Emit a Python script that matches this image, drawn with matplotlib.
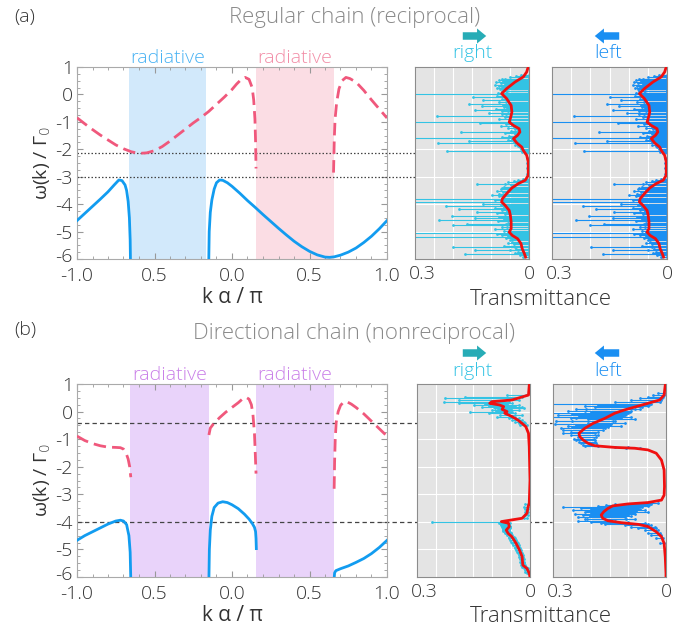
import numpy as np
import matplotlib
matplotlib.use("Agg")
import matplotlib.pyplot as plt
from matplotlib.patches import FancyArrowPatch
from matplotlib.transforms import ScaledTranslation

plt.rcParams["font.family"] = ["Open Sans", "DejaVu Sans"]
plt.rcParams["font.weight"] = "light"
plt.rcParams["mathtext.fontset"] = "dejavusans"

# ---------------- dispersion curves, panel (a) ----------------
a_upper_k1 = [-1.0, -0.95, -0.9, -0.85, -0.8, -0.75, -0.7, -0.65, -0.6, -0.55, -0.5, -0.45, -0.4,
              -0.35, -0.3, -0.25, -0.2, -0.15, -0.1, -0.05, 0.0, 0.03, 0.06, 0.085, 0.11, 0.13,
              0.14, 0.148, 0.152, 0.155]
a_upper_w1 = [-0.85, -1.07, -1.28, -1.48, -1.66, -1.84, -1.98, -2.09, -2.15, -2.13, -2.05, -1.90, -1.70,
              -1.48, -1.26, -1.04, -0.84, -0.62, -0.36, -0.10, 0.18, 0.38, 0.55, 0.62, 0.55, 0.25,
              -0.2, -0.9, -1.7, -2.7]
a_upper_k2 = [0.655, 0.66, 0.665, 0.675, 0.69, 0.71, 0.735, 0.76, 0.8, 0.85, 0.9, 0.95, 1.0]
a_upper_w2 = [-2.85, -1.6, -0.9, -0.3, 0.2, 0.5, 0.62, 0.58, 0.45, 0.15, -0.2, -0.53, -0.86]

a_lower_k1 = [-1.0, -0.95, -0.9, -0.85, -0.8, -0.76, -0.73, -0.71, -0.69, -0.68, -0.67, -0.662, -0.657, -0.655]
a_lower_w1 = [-4.6, -4.34, -4.08, -3.82, -3.55, -3.3, -3.12, -3.14, -3.3, -3.5, -3.9, -4.5, -5.3, -6.1]
a_lower_k2 = [-0.15, -0.147, -0.14, -0.13, -0.115, -0.1, -0.08, -0.06, -0.03, 0.0, 0.05, 0.1, 0.15,
              0.2, 0.25, 0.3, 0.35, 0.4, 0.45, 0.5, 0.55, 0.6, 0.63, 0.66, 0.7, 0.75, 0.8, 0.85,
              0.9, 0.95, 1.0]
a_lower_w2 = [-6.1, -5.0, -4.3, -3.85, -3.45, -3.22, -3.12, -3.13, -3.22, -3.35, -3.6, -3.87, -4.12,
              -4.38, -4.63, -4.88, -5.12, -5.35, -5.55, -5.72, -5.85, -5.93, -5.94, -5.92, -5.86, -5.75,
              -5.6, -5.4, -5.17, -4.9, -4.6]

# ---------------- dispersion curves, panel (b) ----------------
b_upper_k1 = [-1.0, -0.95, -0.9, -0.85, -0.8, -0.75, -0.72, -0.70, -0.685, -0.67, -0.66, -0.653]
b_upper_w1 = [-0.89, -1.05, -1.16, -1.24, -1.29, -1.30, -1.31, -1.36, -1.48, -1.72, -2.0, -2.38]
b_upper_k2 = [-0.149, -0.14, -0.12, -0.08, -0.04, 0.0, 0.04, 0.07, 0.09, 0.11, 0.125, 0.135, 0.145, 0.15, 0.155]
b_upper_w2 = [-0.85, -0.6, -0.45, -0.22, -0.02, 0.15, 0.32, 0.47, 0.52, 0.45, 0.25, -0.1, -0.8, -1.5, -2.25]
b_upper_k3 = [0.659, 0.662, 0.666, 0.672, 0.685, 0.70, 0.72, 0.74, 0.77, 0.8, 0.85, 0.9, 0.95, 1.0]
b_upper_w3 = [-2.8, -1.8, -1.0, -0.4, 0.0, 0.22, 0.35, 0.36, 0.27, 0.15, -0.08, -0.35, -0.62, -0.89]

b_lower_k1 = [-1.0, -0.95, -0.9, -0.85, -0.8, -0.75, -0.72, -0.70, -0.68, -0.665, -0.657, -0.653]
b_lower_w1 = [-4.67, -4.5, -4.36, -4.22, -4.08, -3.97, -3.94, -3.97, -4.1, -4.5, -5.1, -6.1]
b_lower_k2 = [-0.149, -0.146, -0.14, -0.13, -0.115, -0.09, -0.06, -0.03, 0.0, 0.04, 0.08, 0.11, 0.13,
              0.145, 0.152, 0.155, 0.157]
b_lower_w2 = [-6.1, -5.0, -4.3, -3.8, -3.48, -3.32, -3.27, -3.3, -3.38, -3.52, -3.72, -3.9, -4.05,
              -4.2, -4.35, -4.6, -4.97]
b_lower_k3 = [0.659, 0.662, 0.67, 0.7, 0.75, 0.8, 0.85, 0.9, 0.95, 1.0]
b_lower_w3 = [-6.05, -5.85, -5.77, -5.7, -5.6, -5.47, -5.33, -5.15, -4.93, -4.67]

radiative_a = [(-0.665, -0.165), (0.155, 0.655)]
radiative_b = [(-0.655, -0.15), (0.155, 0.658)]
guide_a = [-2.15, -3.0]
guide_b = [-0.4, -4.0]

# ---------------- transmittance, panel (a) (reciprocal: same both ways) ----------------
a_mean_w = [1.0, 0.94, 0.82, 0.64, 0.45, 0.21, 0.03, -0.15, -0.40, -0.64, -0.82, -1.01, -1.13, -1.25,
            -1.37, -1.49, -1.61, -1.77, -1.92, -2.04, -2.22, -2.46, -2.95, -3.13, -3.25, -3.41, -3.62,
            -3.80, -3.92, -4.04, -4.23, -4.41, -4.65, -4.89, -5.02, -5.14, -5.26, -5.44, -5.62, -5.81,
            -5.93]
a_mean_T = [0.0, 0.0035, 0.006, 0.015, 0.037, 0.059, 0.072, 0.059, 0.047, 0.045, 0.048, 0.052, 0.041,
            0.026, 0.024, 0.030, 0.041, 0.032, 0.019, 0.015, 0.006, 0.002, 0.002, 0.010, 0.028, 0.045,
            0.059, 0.070, 0.072, 0.063, 0.052, 0.049, 0.047, 0.047, 0.052, 0.044, 0.030, 0.021, 0.018,
            0.012, 0.009]

a_long_w = [0.03, -0.09, -0.22, -0.34, -0.43, -0.56, -0.66, -0.80, -1.00, -1.04, -1.37, -1.59, -1.70,
            -1.77, -2.07, -3.25, -3.41, -3.68, -3.83, -3.92, -3.98, -4.08, -4.19, -4.29, -4.43, -4.50,
            -4.59, -4.71, -4.77, -5.05, -5.10, -5.20, -5.38, -5.58, -5.66, -5.83]
a_long_T = [0.32, 0.148, 0.120, 0.157, 0.124, 0.142, 0.105, 0.242, 0.32, 0.129, 0.178, 0.32, 0.157,
            0.240, 0.216, 0.137, 0.072, 0.098, 0.32, 0.32, 0.120, 0.218, 0.185, 0.137, 0.203, 0.142,
            0.238, 0.164, 0.201, 0.32, 0.085, 0.32, 0.045, 0.199, 0.142, 0.168]

a_short_w = [0.70, 0.66, 0.62, 0.58, 0.55, 0.52, 0.48, 0.45, 0.42, 0.38, 0.35, 0.31, 0.27, 0.24, 0.21,
             0.18, 0.14, 0.11, 0.07, 0.05, -0.02, -0.05, -0.12, -0.15, -0.18, -0.26, -0.29, -0.31,
             -0.37, -0.40, -0.47, -0.50, -0.52, -0.59, -0.62, -0.70, -0.73, -0.77, -0.84, -0.88, -0.91,
             -0.95, -1.08, -1.11, -1.14, -1.18, -1.22, -1.26, -1.30, -1.33, -1.40, -1.43, -1.47, -1.51,
             -1.55, -1.63, -1.66, -1.73, -1.80, -1.84, -1.89, -1.93, -1.98, -2.02, -2.10, -2.15, -2.3,
             -2.5, -2.7, -2.9,
             -3.08, -3.12, -3.17, -3.21, -3.28, -3.32, -3.37, -3.45, -3.49, -3.53, -3.57, -3.62, -3.66,
             -3.72, -3.77, -3.86, -3.89, -4.02, -4.05, -4.12, -4.15, -4.22, -4.26, -4.33, -4.37, -4.46,
             -4.53, -4.56, -4.63, -4.67, -4.74, -4.82, -4.85, -4.92, -4.97, -5.01, -5.14, -5.17, -5.24,
             -5.28, -5.32, -5.41, -5.46, -5.51, -5.55, -5.62, -5.69, -5.74, -5.78, -5.87, -5.92]
a_short_T = [0.020, 0.035, 0.050, 0.062, 0.072, 0.080, 0.068, 0.086, 0.075, 0.062, 0.090, 0.078, 0.070,
             0.084, 0.066, 0.076, 0.058, 0.072, 0.081, 0.060, 0.066, 0.083, 0.055, 0.071, 0.062, 0.060,
             0.078, 0.052, 0.050, 0.068, 0.066, 0.058, 0.086, 0.055, 0.072, 0.072, 0.048, 0.060, 0.062,
             0.050, 0.080, 0.050, 0.060, 0.045, 0.075, 0.040, 0.055, 0.036, 0.030, 0.048, 0.063, 0.038,
             0.035, 0.052, 0.070, 0.045, 0.055, 0.040, 0.030, 0.038, 0.028, 0.025, 0.020, 0.015, 0.019,
             0.010, 0.005, 0.004, 0.004, 0.006,
             0.015, 0.030, 0.040, 0.055, 0.062, 0.048, 0.066, 0.075, 0.055, 0.085, 0.068, 0.078, 0.060,
             0.080, 0.065, 0.090, 0.072, 0.075, 0.062, 0.065, 0.090, 0.070, 0.058, 0.085, 0.062, 0.078,
             0.065, 0.052, 0.082, 0.055, 0.060, 0.070, 0.058, 0.090, 0.065, 0.055, 0.070, 0.055, 0.060,
             0.046, 0.050, 0.055, 0.040, 0.065, 0.038, 0.035, 0.050, 0.030, 0.036, 0.025, 0.015]

# ---------------- transmittance, panel (b) right ----------------
b_right_mean_w = [1.0, 0.96, 0.60, 0.42, 0.36, 0.30, 0.24, 0.18, 0.08, 0.0, -0.06, -0.18, -0.31, -0.43,
                  -0.55, -0.79, -1.27, -2.48, -3.33, -3.45, -3.69, -3.87, -3.99, -4.05, -4.17, -4.30,
                  -4.42, -4.54, -4.78, -5.02, -5.26, -5.57, -5.69, -5.87, -6.0]
b_right_mean_T = [0.0, 0.002, 0.004, 0.048, 0.101, 0.107, 0.081, 0.070, 0.074, 0.061, 0.067, 0.048,
                  0.032, 0.021, 0.011, 0.004, 0.002, 0.0, 0.002, 0.005, 0.008, 0.021, 0.076, 0.057,
                  0.055, 0.063, 0.058, 0.048, 0.037, 0.028, 0.021, 0.019, 0.008, 0.002, 0.0]
b_right_w = [0.60, 0.54, 0.48, 0.42, 0.36, 0.30, 0.27, 0.24, 0.21, 0.18, 0.15, 0.12, 0.09, 0.06, 0.03,
             0.00, -0.03, -0.06, -0.12, -0.18, -0.25, -0.31, -0.37, -0.43, -0.49,
             -3.35, -3.45, -3.55, -3.65, -3.75, -3.85, -3.99,
             -4.05, -4.08, -4.11, -4.14, -4.17, -4.21, -4.24, -4.27, -4.30, -4.33, -4.36, -4.39, -4.42,
             -4.48, -4.54, -4.60, -4.66, -4.72, -4.78, -4.84, -4.90, -4.96, -5.02, -5.08, -5.14, -5.20,
             -5.26, -5.35, -5.44, -5.50, -5.57, -5.63, -5.69, -5.75, -5.81, -5.87]
b_right_lo = [0.010, 0.021, 0.048, 0.030, 0.057, 0.048, 0.060, 0.030, 0.040, 0.021, 0.045, 0.017, 0.050,
              0.030, 0.055, 0.048, 0.050, 0.039, 0.021, 0.039, 0.030, 0.021, 0.017, 0.012, 0.008,
              0.004, 0.005, 0.004, 0.005, 0.006, 0.008, 0.076,
              0.052, 0.055, 0.057, 0.054, 0.052, 0.053, 0.055, 0.056, 0.057, 0.055, 0.052, 0.051, 0.050,
              0.047, 0.043, 0.040, 0.037, 0.035, 0.032, 0.030, 0.028, 0.026, 0.025, 0.023, 0.021, 0.019,
              0.018, 0.017, 0.016, 0.015, 0.014, 0.010, 0.005, 0.004, 0.002, 0.001]
b_right_hi = [0.060, 0.172, 0.225, 0.189, 0.227, 0.189, 0.120, 0.150, 0.110, 0.127, 0.095, 0.092, 0.085,
              0.101, 0.090, 0.158, 0.080, 0.110, 0.079, 0.088, 0.057, 0.048, 0.039, 0.030, 0.026,
              0.014, 0.016, 0.013, 0.012, 0.014, 0.016, 0.260,
              0.081, 0.078, 0.076, 0.075, 0.074, 0.072, 0.070, 0.072, 0.073, 0.071, 0.067, 0.066, 0.065,
              0.061, 0.057, 0.055, 0.052, 0.050, 0.048, 0.045, 0.041, 0.039, 0.037, 0.035, 0.032, 0.030,
              0.028, 0.027, 0.026, 0.025, 0.023, 0.020, 0.017, 0.014, 0.012, 0.008]

# ---------------- transmittance, panel (b) left ----------------
b_left_mean_w = [1.0, 0.96, 0.60, 0.42, 0.30, 0.18, 0.06, -0.06, -0.25, -0.43, -0.61, -0.79, -0.91,
                 -1.03, -1.15, -1.24, -1.30, -1.33, -1.39, -1.51, -1.76, -2.12, -2.72, -3.03, -3.21,
                 -3.30, -3.35, -3.42, -3.51, -3.63, -3.75, -3.87, -3.96, -4.03, -4.09, -4.17, -4.36,
                 -4.54, -4.78, -5.26, -5.87, -6.0]
b_left_mean_T = [0.0, 0.002, 0.005, 0.017, 0.048, 0.079, 0.110, 0.136, 0.163, 0.194, 0.216, 0.231,
                 0.229, 0.220, 0.207, 0.189, 0.136, 0.083, 0.048, 0.026, 0.012, 0.005, 0.004, 0.005,
                 0.012, 0.048, 0.101, 0.141, 0.154, 0.165, 0.172, 0.168, 0.154, 0.119, 0.074, 0.048,
                 0.026, 0.012, 0.005, 0.002, 0.0, 0.0]
b_left_w = [0.66, 0.60, 0.54, 0.48, 0.42, 0.36, 0.27, 0.24, 0.20, 0.15, 0.11, 0.08, 0.03, -0.01, -0.04,
            -0.06, -0.09, -0.12, -0.15, -0.18, -0.22, -0.25, -0.28, -0.33, -0.36, -0.40, -0.45, -0.49,
            -0.52, -0.57, -0.61, -0.67, -0.73, -0.79, -0.85, -0.93, -0.98, -1.03, -1.09, -1.15, -1.20,
            -1.24, -1.30, -1.33,
            -3.30, -3.35, -3.38, -3.42, -3.47, -3.51, -3.54, -3.57, -3.60, -3.63, -3.66, -3.69, -3.72,
            -3.76, -3.79, -3.84, -3.88, -3.91, -3.96, -3.99, -4.03, -4.08, -4.13, -4.17, -4.24, -4.30,
            -4.39, -4.48, -4.60, -4.78]
b_left_lo = [0.004, 0.006, 0.008, 0.010, 0.012, 0.017, 0.039, 0.045, 0.048, 0.065, 0.070, 0.083, 0.092,
             0.095, 0.101, 0.110, 0.105, 0.110, 0.115, 0.092, 0.120, 0.127, 0.083, 0.136, 0.140, 0.110,
             0.145, 0.150, 0.119, 0.155, 0.163, 0.167, 0.181, 0.189, 0.181, 0.185, 0.190, 0.189, 0.188,
             0.185, 0.183, 0.181, 0.101, 0.070,
             0.021, 0.039, 0.045, 0.048, 0.065, 0.074, 0.070, 0.057, 0.080, 0.048, 0.092, 0.085, 0.083,
             0.100, 0.092, 0.110, 0.105, 0.083, 0.136, 0.100, 0.057, 0.048, 0.039, 0.030, 0.026, 0.021,
             0.017, 0.012, 0.008, 0.005]
b_left_hi = [0.021, 0.035, 0.048, 0.070, 0.092, 0.136, 0.310, 0.180, 0.216, 0.189, 0.240, 0.212, 0.260,
             0.200, 0.310, 0.216, 0.250, 0.287, 0.230, 0.310, 0.240, 0.251, 0.207, 0.291, 0.250, 0.207,
             0.296, 0.240, 0.260, 0.250, 0.278, 0.273, 0.251, 0.273, 0.251, 0.234, 0.245, 0.238, 0.232,
             0.225, 0.220, 0.216, 0.136, 0.105,
             0.065, 0.136, 0.160, 0.181, 0.273, 0.225, 0.200, 0.247, 0.210, 0.189, 0.216, 0.200, 0.242,
             0.220, 0.203, 0.234, 0.210, 0.216, 0.234, 0.200, 0.172, 0.163, 0.110, 0.092, 0.074, 0.057,
             0.048, 0.039, 0.026, 0.017]

# ---------------- colours ----------------
c_solid = "#129cf0"
c_dash = "#f0587c"
c_right = "#33c3e4"
c_left = "#1a8ff2"
c_red = "#f01010"
c_text = "#333333"
c_title = "#8a8a8a"


def px(x, y):
    return x / 690, 1 - y / 631


fig = plt.figure(figsize=(6.9, 6.31), dpi=100)


def dispersion_axes(rect, upper, lower, shades, guides, guide_ls):
    ax = fig.add_axes(rect)
    for (lo, hi), shade_color, label_color in shades:
        ax.axvspan(lo, hi, color=shade_color, lw=0, zorder=0)
        ax.text((lo + hi) / 2, 1.0, "radiative", color=label_color, fontsize=14,
                ha="center", va="bottom", transform=ax.get_xaxis_transform())
    for k, w in upper:
        ax.plot(k, w, color=c_dash, lw=2.0, ls=(0, (4.5, 2.2)), zorder=3)
    for k, w in lower:
        ax.plot(k, w, color=c_solid, lw=2.0, zorder=3)
    for g in guides:
        ax.axhline(g, xmin=0, xmax=(552 - 77) / 310, color="#444444", lw=0.9, ls=guide_ls,
                   clip_on=False, zorder=2)
    ax.set_xlim(-1, 1)
    ax.set_ylim(-6, 1)
    ax.set_xticks([-1.0, -0.5, 0.0, 0.5, 1.0])
    ax.set_xticklabels(["-1.0", "0.5", "0.0", "0.5", "1.0"])
    ax.set_xticks(np.arange(-1, 1.01, 0.1), minor=True)
    ax.set_yticks(range(-6, 2))
    ax.set_yticklabels(["-6", "-5", "-4", "-3", "-2", "-1", "0", "1"])
    ax.set_yticks(np.arange(-6, 1.01, 0.25), minor=True)
    ax.tick_params(which="both", direction="in", top=True, right=True, colors="#999999",
                   labelcolor=c_text, labelsize=14)
    ax.tick_params(which="major", length=4)
    ax.tick_params(which="minor", length=2)
    ax.tick_params(axis="x", pad=6)
    ax.tick_params(axis="y", pad=3)
    lift = ScaledTranslation(0, 4 / 100, fig.dpi_scale_trans)
    low = ax.get_yticklabels()[0]
    low.set_transform(low.get_transform() + lift)
    for s in ax.spines.values():
        s.set_color("#aaaaaa")
        s.set_linewidth(0.8)
    ax.set_xlabel("k α / π", fontsize=15, color=c_text, labelpad=1)
    ax.set_ylabel("ω(k) / Γ$_0$", fontsize=14, color=c_text, labelpad=2)
    return ax


def trans_axes(rect, mean_w, mean_T, seg_w, seg_lo, seg_hi, color):
    ax = fig.add_axes(rect)
    ax.set_facecolor("#e4e4e4")
    ax.set_xlim(0.3, 0)
    ax.set_ylim(-6, 1)
    ax.set_xticks([0.3, 0])
    ax.set_xticklabels(["0.3", "0"])
    ax.set_xticks(np.arange(0.05, 0.3, 0.05), minor=True)
    ax.set_yticks(range(-6, 2))
    ax.set_yticklabels([])
    ax.grid(which="both", color="white", lw=0.8)
    ax.set_axisbelow(True)
    ax.tick_params(which="both", length=0, labelsize=14, labelcolor=c_text, pad=4)
    shift = ScaledTranslation(7 / 100, 0, fig.dpi_scale_trans)
    lab = ax.get_xticklabels()[0]
    lab.set_transform(lab.get_transform() + shift)
    for s in ax.spines.values():
        s.set_color("#8c8c8c")
        s.set_linewidth(0.8)
    ax.hlines(seg_w, seg_lo, seg_hi, color=color, lw=0.8, zorder=2)
    ax.plot(seg_hi, seg_w, "o", color=color, ms=2.0, mew=0, zorder=2)
    ax.plot(seg_lo, seg_w, "o", color=color, ms=2.0, mew=0, zorder=2)
    ax.plot(mean_T, mean_w, color=c_red, lw=2.0, zorder=3)
    return ax


def arrow(x0, x1, y, color):
    a = FancyArrowPatch(px(x0, y), px(x1, y), transform=fig.transFigure,
                        arrowstyle="simple,head_length=0.55,head_width=0.9,tail_width=0.45",
                        mutation_scale=12, color=color, lw=0)
    fig.add_artist(a)


# ---------- panel (a) ----------
a_seg_w = a_long_w + a_short_w
a_seg_T = a_long_T + a_short_T
a_zero = [0.0] * len(a_seg_w)

dispersion_axes([77 / 690, 1 - 259 / 631, 310 / 690, 192 / 631],
                [(a_upper_k1, a_upper_w1), (a_upper_k2, a_upper_w2)],
                [(a_lower_k1, a_lower_w1), (a_lower_k2, a_lower_w2)],
                [(radiative_a[0], "#d2e9fb", "#48b2f3"), (radiative_a[1], "#fbdde4", "#f28ca6")],
                guide_a, (0, (1.2, 1.6)))
trans_axes([415 / 690, 1 - 259 / 631, 114 / 690, 192 / 631], a_mean_w, a_mean_T,
           a_seg_w, a_zero, a_seg_T, c_right)
trans_axes([552 / 690, 1 - 259 / 631, 115 / 690, 192 / 631], a_mean_w, a_mean_T,
           a_seg_w, a_zero, a_seg_T, c_left)

# ---------- panel (b) ----------
dispersion_axes([77 / 690, 1 - 577 / 631, 310 / 690, 193 / 631],
                [(b_upper_k1, b_upper_w1), (b_upper_k2, b_upper_w2), (b_upper_k3, b_upper_w3)],
                [(b_lower_k1, b_lower_w1), (b_lower_k2, b_lower_w2), (b_lower_k3, b_lower_w3)],
                [(radiative_b[0], "#e9d3fa", "#c97fe8"), (radiative_b[1], "#e9d3fa", "#c97fe8")],
                guide_b, (0, (3.5, 2.5)))
trans_axes([417 / 690, 1 - 577 / 631, 113 / 690, 193 / 631], b_right_mean_w, b_right_mean_T,
           b_right_w, b_right_lo, b_right_hi, c_right)
trans_axes([553 / 690, 1 - 577 / 631, 113 / 690, 193 / 631], b_left_mean_w, b_left_mean_T,
           b_left_w, b_left_lo, b_left_hi, c_left)

# ---------- labels ----------
fig.text(*px(14, 17), "(a)", fontsize=14, color=c_text, va="center", ha="left")
fig.text(*px(14, 330), "(b)", fontsize=14, color=c_text, va="center", ha="left")
fig.text(*px(355, 18), "Regular chain (reciprocal)", fontsize=16, color=c_title, ha="center", va="center")
fig.text(*px(354, 333), "Directional chain (nonreciprocal)", fontsize=16, color=c_title,
         ha="center", va="center")
for y_txt, y_arr in [(53, 36), (371, 353)]:
    fig.text(*px(472, y_txt), "right", fontsize=14, color=c_right, ha="center", va="center")
    fig.text(*px(608, y_txt), "left", fontsize=14, color=c_left, ha="center", va="center")
    arrow(460, 489, y_arr, "#27acb6")
    arrow(622, 592, y_arr, "#1a8ff2")
fig.text(*px(541, 299), "Transmittance", fontsize=16, color=c_text, ha="center", va="center")
fig.text(*px(541, 617), "Transmittance", fontsize=16, color=c_text, ha="center", va="center")

fig.savefig("out.png", dpi=100)
